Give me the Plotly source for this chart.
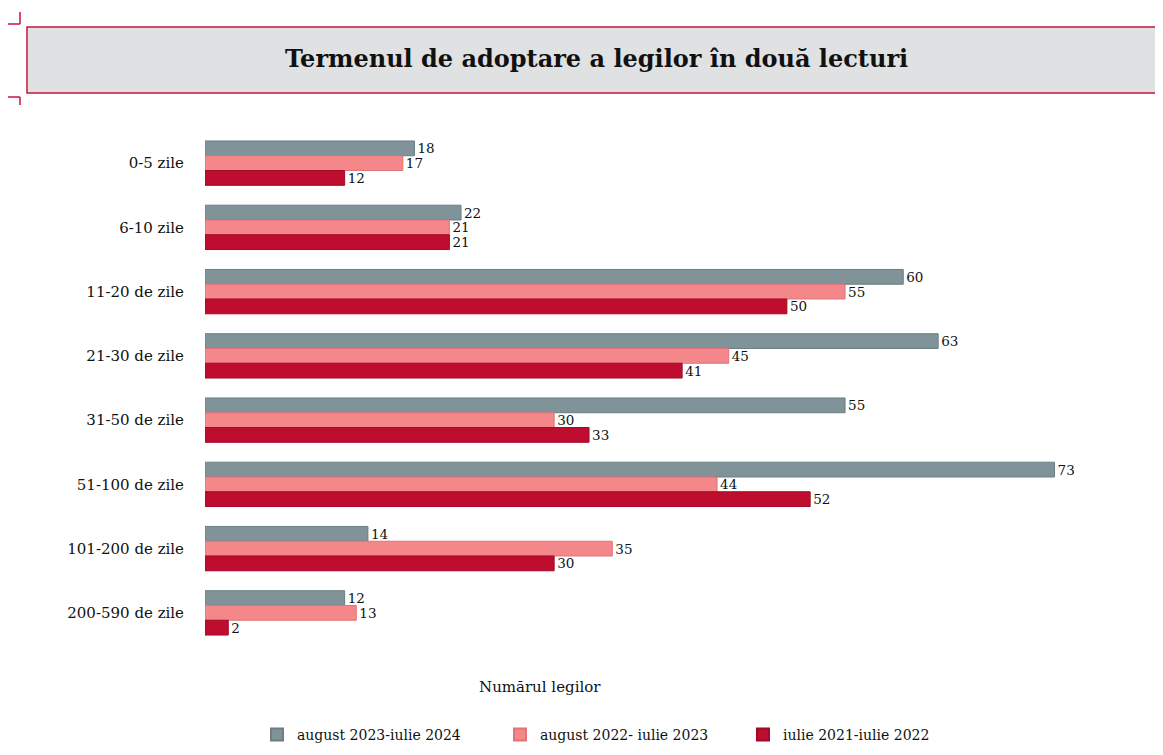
import plotly.graph_objects as go

categories = ["0-5 zile", "6-10 zile", "11-20 de zile", "21-30 de zile", "31-50 de zile",
              "51-100 de zile", "101-200 de zile", "200-590 de zile"]
series_names = ["august 2023-iulie 2024", "august 2022- iulie 2023", "iulie 2021-iulie 2022"]
s2024 = [18, 22, 60, 63, 55, 73, 14, 12]
s2023 = [17, 21, 55, 45, 30, 44, 35, 13]
s2022 = [12, 21, 50, 41, 33, 52, 30, 2]

colors = ["#7f9399", "#f4878a", "#bf0d2f"]
edge = ["#6c7e84", "#e07478", "#a00a26"]
FONT = "DejaVu Serif"

# page body has an 8px margin; figure is drawn at (8, 8)
OFF = 8
W, H = 1147, 739
ML, MR, MT, MB = 197, 19, 123, 102
pw, ph = W - ML - MR, H - MT - MB

def px(x):  # page x -> paper
    return (x - OFF - ML) / pw

def py(y):  # page y -> paper
    return (H - MB - (y - OFF)) / ph

fig = go.Figure()
for name, vals, c, e in zip(series_names, [s2024, s2023, s2022], colors, edge):
    fig.add_trace(go.Bar(
        y=categories, x=vals, name=name, orientation="h",
        marker=dict(color=c, line=dict(color=e, width=1)),
        text=[str(v) for v in vals], textposition="outside", constraintext="none",
        textfont=dict(family=FONT, size=13.5, color="#111"),
        cliponaxis=False,
    ))

RED = "#c8163a"
shapes = [
    dict(type="rect", xref="paper", yref="paper", x0=px(27), x1=px(1161), y0=py(93), y1=py(27),
         fillcolor="#e0e1e3", line=dict(color=RED, width=1.5), layer="below"),
    dict(type="line", xref="paper", yref="paper", x0=px(8), x1=px(20), y0=py(24), y1=py(24),
         line=dict(color=RED, width=1.5)),
    dict(type="line", xref="paper", yref="paper", x0=px(20), x1=px(20), y0=py(12), y1=py(24),
         line=dict(color=RED, width=1.5)),
    dict(type="line", xref="paper", yref="paper", x0=px(8), x1=px(20), y0=py(97), y1=py(97),
         line=dict(color=RED, width=1.5)),
    dict(type="line", xref="paper", yref="paper", x0=px(20), x1=px(20), y0=py(97), y1=py(105),
         line=dict(color=RED, width=1.5)),
]

annotations = [
    dict(text="<b>Termenul de adoptare a legilor în două lecturi</b>", xref="paper", yref="paper",
         x=px(596), y=py(58), showarrow=False, xanchor="center", yanchor="middle",
         font=dict(family=FONT, size=24, color="#111")),
    dict(text="Numărul legilor", xref="paper", yref="paper", x=px(540), y=py(687),
         showarrow=False, xanchor="center", yanchor="middle",
         font=dict(family=FONT, size=15, color="#111")),
]

fig.update_layout(
    width=W, height=H,
    margin=dict(l=ML, r=MR, t=MT, b=MB),
    paper_bgcolor="white", plot_bgcolor="white",
    barmode="group", bargap=0.31, bargroupgap=0.0,
    font=dict(family=FONT, size=14, color="#111"),
    xaxis=dict(range=[0, 80], showgrid=False, zeroline=False, showticklabels=False,
               showline=False, ticks=""),
    yaxis=dict(autorange="reversed", showgrid=False, showline=False, ticks="",
               ticklabelstandoff=20, tickfont=dict(family=FONT, size=15, color="#111")),
    legend=dict(orientation="h", x=px(257), xanchor="left",
                yref="container", y=(H - (735 - OFF)) / H, yanchor="middle",
                font=dict(family=FONT, size=14, color="#111"),
                entrywidth=198, entrywidthmode="pixels", itemsizing="constant"),
    shapes=shapes, annotations=annotations,
    showlegend=True,
)

fig.write_html("out.html")
